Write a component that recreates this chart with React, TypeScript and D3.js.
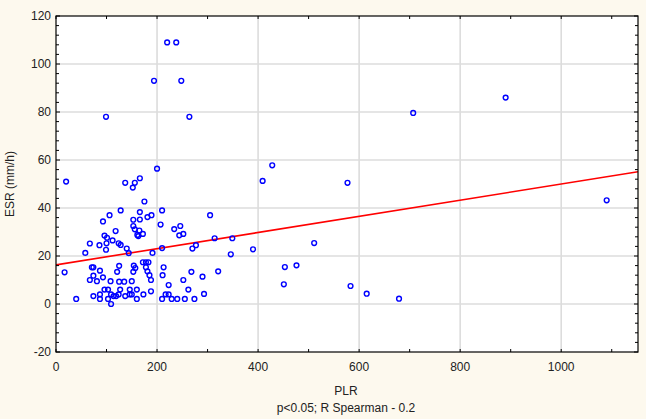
import React from "react";
import * as d3 from "d3";

// PLR / ESR pairs (parallel arrays)
const plrValues = [
  20, 137, 152, 156, 166, 200, 175,
  99, 194, 220, 238, 248, 264,
  428, 409, 577, 707, 890, 1090,
  305, 314, 349, 346, 390, 511, 321, 290, 293, 453, 476, 451, 583, 615, 679,
  106, 128, 93, 118, 96, 101, 112, 100, 99, 67, 86, 58, 124, 128, 140, 144,
  153, 166, 153, 156, 165, 161, 163, 172, 166, 181, 189, 210, 207, 210, 191,
  234, 246, 244, 252, 270, 277,
  17, 40, 71, 74, 87, 67, 74, 81, 93, 74, 87, 87, 96, 103, 108, 103, 109, 109,
  114, 119, 124, 125, 135, 127, 121, 125, 137, 146, 146, 150, 150, 160, 160,
  154, 157, 153, 173, 172, 178, 183, 178, 181, 185, 188, 188, 211, 213, 217,
  223, 223, 210, 229, 240, 252, 255, 262, 268, 274,
];
const esrValues = [
  51, 50.5, 48.5, 50.5, 52.4, 56.4, 42.7,
  78, 93, 109, 109, 93, 78,
  57.8, 51.3, 50.5, 79.6, 86, 43.2,
  37, 27.4, 27.4, 20.7, 22.8, 25.4, 13.6, 11.4, 4.2, 15.4, 16.1, 8.2, 7.5, 4.3, 2.2,
  37, 39, 34.4, 30.4, 28.5, 27.6, 26.5, 25.3, 22.6, 25.2, 24.5, 21.3, 25.3, 24.6, 23.1, 21.2,
  35.1, 35.2, 32.5, 31.1, 30.6, 28.8, 28.3, 29.2, 38.3, 36.2, 37, 39, 33.1, 23.3, 21.3,
  31.2, 32.5, 28.6, 29.2, 23.1, 24.5,
  13.2, 2.1, 15.3, 15.3, 13.9, 10, 11.8, 9.5, 11.1, 3.3, 4, 2.1, 6, 6, 9.5, 2.1, 4, 0,
  3.3, 3.3, 4, 9.3, 9.3, 6, 13.4, 15.9, 3.3, 4, 6, 9.5, 4, 6, 2.1,
  16, 15, 13.4, 4, 17.4, 17.4, 17.4, 15.3, 13.6, 12, 10, 5.3, 12, 15.3, 4,
  7.9, 4, 2.1, 2.1, 2.1, 10, 2.1, 6, 13.4, 2.1,
];

// fitted line: ESR = intercept + slope * PLR
const fitIntercept = 16.3;
const fitSlope = 0.0337;

const xTicks = [0, 200, 400, 600, 800, 1000];
const yTicks = [-20, 0, 20, 40, 60, 80, 100, 120];

export default function App() {
  const W = 646;
  const H = 419;
  const m = { top: 16, right: 8, bottom: 67, left: 56 };

  const x = d3.scaleLinear().domain([0, 1152]).range([m.left, W - m.right]);
  const y = d3.scaleLinear().domain([-20, 120]).range([H - m.bottom, m.top]);

  const x0 = x.range()[0];
  const x1 = x.range()[1];
  const yb = y.range()[0];
  const yt = y.range()[1];

  const xMinor = d3.range(0, 1152, 100);
  const yMinor = d3.range(-20, 120.1, 4);

  const line = d3
    .line<number>()
    .x((v) => x(v))
    .y((v) => y(fitIntercept + fitSlope * v));

  const font = "'Liberation Sans', Arial, sans-serif";

  return (
    <svg
      width={W}
      height={H}
      style={{ position: "absolute", left: 0, top: 0 }}
      fontFamily={font}
    >
      <rect width={W} height={H} fill="#FDF9EE" />
      <rect x={x0} y={yt} width={x1 - x0} height={yb - yt} fill="#ffffff" />

      <defs>
        <clipPath id="plot">
          <rect x={x0} y={yt} width={x1 - x0} height={yb - yt} />
        </clipPath>
      </defs>

      {/* grid */}
      {xTicks.slice(1).map((t) => (
        <line key={"gx" + t} x1={x(t)} x2={x(t)} y1={yt} y2={yb} stroke="#DCDCDC" strokeWidth={1.6} />
      ))}
      {yTicks.slice(1, -1).map((t) => (
        <line key={"gy" + t} x1={x0} x2={x1} y1={y(t)} y2={y(t)} stroke="#DCDCDC" strokeWidth={1.6} />
      ))}

      {/* regression line */}
      <path
        d={line([0, 1152]) || ""}
        fill="none"
        stroke="#FF0000"
        strokeWidth={1.6}
        clipPath="url(#plot)"
      />

      {/* points */}
      {plrValues.map((p, i) => (
        <circle
          key={i}
          cx={x(p)}
          cy={y(esrValues[i])}
          r={2.4}
          fill="none"
          stroke="#0000FF"
          strokeWidth={1.4}
        />
      ))}

      {/* frame */}
      <rect x={x0} y={yt} width={x1 - x0} height={yb - yt} fill="none" stroke="#000" strokeWidth={1.2} />

      {/* ticks, inward */}
      {xMinor.map((t) => (
        <g key={"tx" + t} stroke="#000" strokeWidth={1}>
          <line x1={x(t)} x2={x(t)} y1={yb} y2={yb - 3} />
          <line x1={x(t)} x2={x(t)} y1={yt} y2={yt + 3} />
        </g>
      ))}
      {yMinor.map((t) => (
        <g key={"ty" + t} stroke="#000" strokeWidth={1}>
          <line x1={x0} x2={x0 + (t % 20 === 0 ? 4 : 3)} y1={y(t)} y2={y(t)} />
          <line x1={x1} x2={x1 - (t % 20 === 0 ? 4 : 3)} y1={y(t)} y2={y(t)} />
        </g>
      ))}

      {/* tick labels */}
      {xTicks.map((t) => (
        <text key={"lx" + t} x={x(t)} y={yb + 19} textAnchor="middle" fontSize={12} fill="#222">
          {t}
        </text>
      ))}
      {yTicks.map((t) => (
        <text key={"ly" + t} x={x0 - 5} y={y(t) + 4} textAnchor="end" fontSize={12} fill="#222">
          {t}
        </text>
      ))}

      {/* axis titles */}
      <text
        transform={`translate(14, ${(yt + yb) / 2}) rotate(-90)`}
        textAnchor="middle"
        fontSize={12}
        fill="#222"
      >
        ESR (mm/h)
      </text>
      <text x={346} y={395} textAnchor="middle" fontSize={12} fill="#222">
        PLR
      </text>
      <text x={346} y={412} textAnchor="middle" fontSize={12} fill="#222">
        p&lt;0.05; R Spearman - 0.2
      </text>
    </svg>
  );
}
